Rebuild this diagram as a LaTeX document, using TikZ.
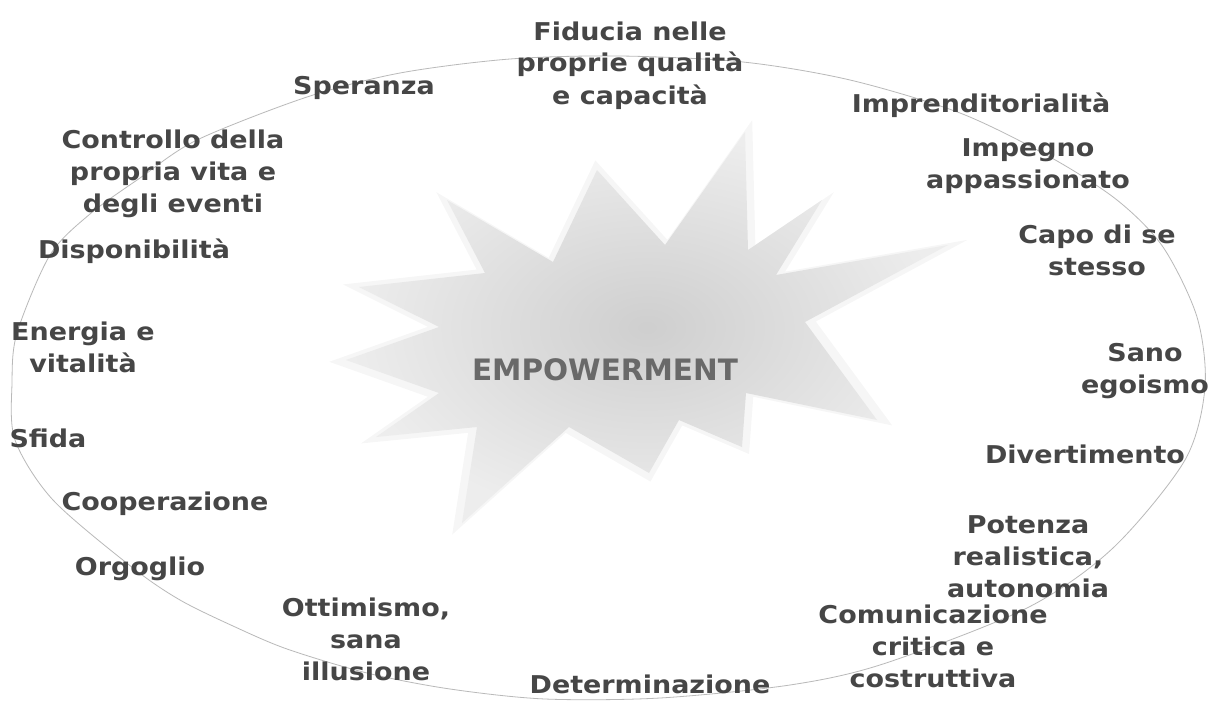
\documentclass[tikz,border=0pt]{standalone}
\usepackage{fontspec}
\newfontfamily\labfont{DejaVu Sans}[FakeStretch=1.1]
\newfontfamily\empfont{DejaVu Sans}
\definecolor{labgray}{RGB}{70,70,70}
\definecolor{empgray}{RGB}{105,105,105}
\newcommand\labtext[1]{\begin{tabular}[b]{@{}c@{}}#1\end{tabular}}
\newcommand\starpath{(745,132) -- (748,250) -- (822,200) -- (776,275) -- (948,245) -- (805,322)
  -- (877,420) -- (746,393) -- (742,447) -- (679,420) -- (649,473) -- (569,427)
  -- (462,523) -- (477,427) -- (376,437) -- (439,393) -- (346,360) -- (439,327)
  -- (359,287) -- (485,273) -- (447,200) -- (553,262) -- (597,170) -- (665,245) -- cycle}
\tikzset{
  lab/.style={font=\labfont\bfseries\fontsize{24.5}{32}\selectfont, text=labgray, inner sep=0pt, anchor=base},
  emp/.style={font=\empfont\bfseries\fontsize{29.5}{34}\selectfont, text=empgray, inner sep=0pt, anchor=base},
  ring/.style={draw=gray!55, line width=0.8pt},
  halo/.style={fill=black, fill opacity=0.035, draw=none},
  burst/.style={inner color=black!19, outer color=black!7},
}
\begin{document}
\begin{tikzpicture}[x=1pt,y=-1pt]
\fill[white] (0,0) rectangle (1211,701);
\useasboundingbox (0,0) rectangle (1211,701);
% starburst
\begin{scope}[scale around={1.06:(625,330)}]
  \path[halo] \starpath;
\end{scope}
\shade[burst] \starpath;
% ring
\draw[ring] plot[smooth cycle] coordinates {(620,56) (743,62) (850,80) (960,113) (1050,157)
  (1117,200) (1163,247) (1197,317) (1205,387) (1185,460) (1113,548) (1027,608) (883,664)
  (790,685) (660,698) (545,699) (450,689) (367,673) (287,649) (233,626) (180,600) (133,568) (53,500)
  (15,440) (12,383) (17,333) (50,255) (90,214) (140,178) (197,140) (307,97) (400,73) (510,59)};
% centre
\node[emp] (emp) at (605,380) {EMPOWERMENT};
% labels
\node[lab] (fid) at (630,104) {\labtext{Fiducia nelle\\proprie qualità\\e capacità}};
\node[lab] (spe) at (364,95) {\labtext{Speranza}};
\node[lab] (con) at (173,212) {\labtext{Controllo della\\propria vita e\\degli eventi}};
\node[lab] (dis) at (134,258) {\labtext{Disponibilità}};
\node[lab] (ene) at (83,372) {\labtext{Energia e\\vitalità}};
\node[lab] (sfi) at (48,447) {\labtext{Sfida}};
\node[lab] (coo) at (165,510) {\labtext{Cooperazione}};
\node[lab] (org) at (140,575) {\labtext{Orgoglio}};
\node[lab] (ott) at (366,680) {\labtext{Ottimismo,\\sana\\illusione}};
\node[lab] (det) at (650,693) {\labtext{Determinazione}};
\node[lab] (com) at (933,687) {\labtext{Comunicazione\\critica e\\costruttiva}};
\node[lab] (pot) at (1028,597) {\labtext{Potenza\\realistica,\\autonomia}};
\node[lab] (div) at (1085,463) {\labtext{Divertimento}};
\node[lab] (san) at (1145,393) {\labtext{Sano\\egoismo}};
\node[lab] (cap) at (1097,275) {\labtext{Capo di se\\stesso}};
\node[lab] (imp) at (1028,188) {\labtext{Impegno\\appassionato}};
\node[lab] (ipr) at (981,113) {\labtext{Imprenditorialità}};
\end{tikzpicture}
\end{document}
